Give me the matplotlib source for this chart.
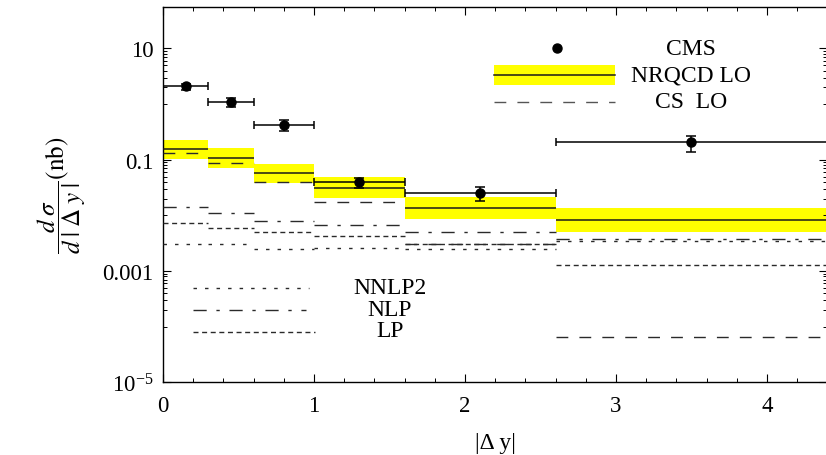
import numpy as np
import matplotlib
matplotlib.use("Agg")
import matplotlib.pyplot as plt
from matplotlib.ticker import FixedLocator, MultipleLocator, NullFormatter

plt.rcParams['font.family'] = ['Liberation Serif', 'DejaVu Serif']
plt.rcParams['mathtext.fontset'] = 'stix'

# ---- data ----
bin_edges = [0.0, 0.3, 0.6, 1.0, 1.6, 2.6, 4.4]
cms_x = [0.15, 0.45, 0.8, 1.3, 2.1, 3.5]
cms_y = [2.08, 1.07, 0.419, 0.0397, 0.0248, 0.205]
cms_up = [2.30, 1.28, 0.515, 0.0474, 0.0318, 0.269]
cms_lo = [1.78, 0.893, 0.327, 0.0313, 0.0181, 0.1355]

nrqcd_c = [0.155, 0.1084, 0.0569, 0.031, 0.0137, 0.00834]
nrqcd_hi = [0.2254, 0.162, 0.0836, 0.0482, 0.0213, 0.01352]
nrqcd_lo = [0.1026, 0.0708, 0.0376, 0.0205, 0.00869, 0.00507]
cs_lo = [0.130, 0.0871, 0.0402, 0.0171, 0.0031, 6.6e-5]

lp = [0.00719, 0.00599, 0.00501, 0.00425, 0.00305, 0.0013]
nlp = [0.01393, 0.01114, 0.0078, 0.0067, 0.00512, 0.0037]
nnlp2 = [0.00309, 0.00301, 0.00248, 0.00259, 0.0025, 0.0034]

ytick_vals = [10, 0.1, 1e-3, 1e-5]
ytick_labels = ['10', '0.1', '0.001', r'$\mathregular{10^{-5}}$']
xtick_vals = [0, 1, 2, 3, 4]

# ---- styles ----
LC = '#2a2a2a'
ls_cs = (0, (8.5, 8))
ls_lp = (0, (3.6, 2.6))
ls_nlp = (0, (9.5, 7, 2.4, 7))
ls_nnlp2 = (0, (2.5, 5.8))

fig = plt.figure(figsize=(8.26, 4.56), dpi=100)
ax = fig.add_axes([0.1973, 0.1594, 0.8044, 0.8224])
ax.set_yscale('log')
ax.set_xlim(0, 4.4)
ax.set_ylim(1e-5, 10**1.74)

left = bin_edges[:-1]
right = bin_edges[1:]
for i in range(len(left)):
    ax.fill_between([left[i], right[i]], [nrqcd_lo[i]] * 2, [nrqcd_hi[i]] * 2,
                    color='#ffff00', lw=0, zorder=1)
ax.hlines(nrqcd_c, left, right, colors='#1a1a1a', lw=1.1, zorder=3)
ax.hlines(cs_lo, left, right, colors=LC, lw=1.0, linestyles=[ls_cs], zorder=3)
ax.hlines(lp, left, right, colors=LC, lw=1.0, linestyles=[ls_lp], zorder=3)
ax.hlines(nlp, left, right, colors=LC, lw=1.0, linestyles=[ls_nlp], zorder=3)
ax.hlines(nnlp2, left, right, colors=LC, lw=1.0, linestyles=[ls_nnlp2], zorder=3)

cy = np.array(cms_y)
cx = np.array(cms_x)
xerr = [cx - np.array(left), np.array(right) - cx]
yerr = [cy - np.array(cms_lo), np.array(cms_up) - cy]
ax.errorbar(cx, cy, xerr=xerr, fmt='none', ecolor='black', elinewidth=1.1,
            capsize=2.6, capthick=1.1, zorder=5)
ax.errorbar(cx, cy, yerr=yerr, fmt='o', color='black', ms=6.5, elinewidth=1.1,
            capsize=3.6, capthick=1.1, zorder=6)

# ticks
ax.xaxis.set_major_locator(FixedLocator(xtick_vals))
ax.xaxis.set_minor_locator(MultipleLocator(0.2))
ax.set_xticklabels([str(v) for v in xtick_vals])
ax.yaxis.set_major_locator(FixedLocator(ytick_vals))
minors = [j * 10.0 ** k for k in (0, -2, -4) for j in range(1, 10)]
ax.yaxis.set_minor_locator(FixedLocator(minors))
ax.yaxis.set_minor_formatter(NullFormatter())
ax.set_yticklabels(ytick_labels)
ax.tick_params(which='both', direction='in', top=True, right=True, labelsize=16.5)
ax.tick_params(which='major', length=5.5, width=0.8)
ax.tick_params(which='minor', length=3, width=0.7)
ax.tick_params(axis='x', pad=9)
ax.tick_params(axis='y', pad=7)
for s in ax.spines.values():
    s.set_linewidth(1.0)

ax.set_xlabel('|Δ y|', fontsize=17, labelpad=12)
ax.set_ylabel(r'$\dfrac{d\;\sigma}{d\;|\;\Delta\;y\;|}\mathrm{(nb)}$', fontsize=18, labelpad=10)

# legend (upper)
T = ax.transAxes
ax.plot([0.5926], [0.8907], 'o', color='black', ms=6.5, transform=T, clip_on=False)
ax.text(0.795, 0.8907, 'CMS', transform=T, ha='center', va='center', fontsize=17)
ax.fill_between([0.4988, 0.6809], [0.7928] * 2, [0.8461] * 2, color='#ffff00', lw=0, transform=T)
ax.plot([0.4988, 0.6809], [0.8187] * 2, color='#1a1a1a', lw=1.1, transform=T)
ax.text(0.795, 0.8187, 'NRQCD LO', transform=T, ha='center', va='center', fontsize=17)
ax.plot([0.4988, 0.6809], [0.7483] * 2, color='#555555', lw=1.0, ls=ls_cs, transform=T)
ax.text(0.795, 0.7483, 'CS  LO', transform=T, ha='center', va='center', fontsize=17)

# legend (lower)
ax.plot([0.0452, 0.2200], [0.2515] * 2, color=LC, lw=1.0, ls=ls_nnlp2, transform=T)
ax.text(0.3417, 0.2515, 'NNLP2', transform=T, ha='center', va='center', fontsize=17)
ax.plot([0.0452, 0.2152], [0.1936] * 2, color=LC, lw=1.0, ls=ls_nlp, transform=T)
ax.text(0.3417, 0.1950, 'NLP', transform=T, ha='center', va='center', fontsize=17)
ax.plot([0.0452, 0.2288], [0.1333] * 2, color=LC, lw=1.0, ls=ls_lp, transform=T)
ax.text(0.3417, 0.1376, 'LP', transform=T, ha='center', va='center', fontsize=17)

fig.savefig('out.png', dpi=100)
